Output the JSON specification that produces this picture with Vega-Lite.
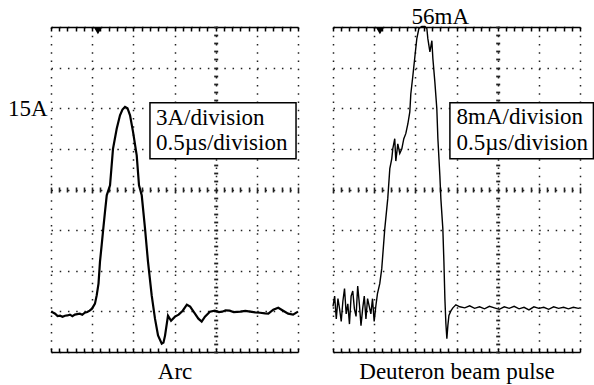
{
  "$schema": "https://vega.github.io/schema/vega-lite/v6.json",
  "background": "white",
  "padding": {"left": 7, "top": 5, "right": 0, "bottom": 0},
  "spacing": 27,
  "config": {"view": {"stroke": null}, "font": "Liberation Serif"},
  "datasets": {
    "arc": [
      {"t":0,"v":-0.02},{"t":0.03,"v":-0.1},{"t":0.05,"v":-0.17},{"t":0.08,"v":-0.35},{"t":0.11,"v":-0.32},{"t":0.14,"v":-0.4},{"t":0.17,"v":-0.32},{"t":0.2,"v":-0.3},{"t":0.23,"v":-0.24},{"t":0.26,"v":-0.35},{"t":0.29,"v":-0.24},{"t":0.32,"v":-0.2},{"t":0.35,"v":-0.17},{"t":0.38,"v":-0.25},{"t":0.41,"v":-0.1},{"t":0.44,"v":-0.05},{"t":0.47,"v":0.05},{"t":0.498,"v":0.2},{"t":0.534,"v":0.57},{"t":0.555,"v":1.18},{"t":0.577,"v":2.05},{"t":0.595,"v":3.67},{"t":0.616,"v":4.93},{"t":0.635,"v":6.11},{"t":0.656,"v":7.36},{"t":0.677,"v":8.57},{"t":0.717,"v":9.31},{"t":0.753,"v":12.0},{"t":0.798,"v":13.49},{"t":0.838,"v":14.48},{"t":0.868,"v":14.9},{"t":0.899,"v":15.1},{"t":0.929,"v":15.0},{"t":0.96,"v":14.48},{"t":0.996,"v":13.27},{"t":1.041,"v":11.52},{"t":1.069,"v":9.31},{"t":1.102,"v":8.57},{"t":1.142,"v":6.11},{"t":1.178,"v":3.67},{"t":1.223,"v":1.18},{"t":1.263,"v":-0.54},{"t":1.3,"v":-1.77},{"t":1.345,"v":-2.39},{"t":1.366,"v":-2.31},{"t":1.385,"v":-1.79},{"t":1.421,"v":-0.32},{"t":1.458,"v":-0.69},{"t":1.506,"v":-0.39},{"t":1.55,"v":-0.24},{"t":1.6,"v":0.05},{"t":1.65,"v":0.49},{"t":1.69,"v":0.35},{"t":1.74,"v":-0.1},{"t":1.79,"v":-0.54},{"t":1.83,"v":-0.76},{"t":1.87,"v":-0.39},{"t":1.93,"v":-0.02},{"t":1.99,"v":0.05},{"t":2.04,"v":-0.05},{"t":2.08,"v":-0.02},{"t":2.12,"v":0.08},{"t":2.17,"v":0.05},{"t":2.22,"v":-0.06},{"t":2.3,"v":-0.02},{"t":2.36,"v":0.04},{"t":2.42,"v":-0.02},{"t":2.48,"v":-0.08},{"t":2.54,"v":-0.1},{"t":2.6,"v":-0.15},{"t":2.64,"v":-0.17},{"t":2.7,"v":0.12},{"t":2.76,"v":0.27},{"t":2.82,"v":0.05},{"t":2.88,"v":-0.17},{"t":2.94,"v":-0.24},{"t":3.0,"v":-0.02}
    ],
    "beam": [
      {"t":0,"v":1.0},{"t":0.02,"v":3.0},{"t":0.04,"v":-1.5},{"t":0.06,"v":2.5},{"t":0.08,"v":0.5},{"t":0.1,"v":-2.0},{"t":0.12,"v":2.0},{"t":0.14,"v":4.5},{"t":0.16,"v":-0.5},{"t":0.18,"v":1.5},{"t":0.2,"v":-2.5},{"t":0.22,"v":3.0},{"t":0.24,"v":4.0},{"t":0.26,"v":0.5},{"t":0.28,"v":-1.0},{"t":0.3,"v":5.0},{"t":0.32,"v":1.5},{"t":0.34,"v":-2.8},{"t":0.36,"v":0.5},{"t":0.38,"v":3.0},{"t":0.4,"v":-1.5},{"t":0.42,"v":2.5},{"t":0.44,"v":1.0},{"t":0.46,"v":-0.5},{"t":0.48,"v":2.5},{"t":0.5,"v":-2.0},{"t":0.52,"v":1.0},{"t":0.54,"v":3.5},
      {"t":0.568,"v":5.46},{"t":0.592,"v":8.41},{"t":0.629,"v":16.3},{"t":0.665,"v":22.2},{"t":0.69,"v":28.1},{"t":0.714,"v":30.1},{"t":0.726,"v":32.0},{"t":0.75,"v":34.0},{"t":0.763,"v":29.6},{"t":0.787,"v":33.0},{"t":0.811,"v":31.1},{"t":0.836,"v":32.0},{"t":0.86,"v":34.0},{"t":0.884,"v":35.0},{"t":0.909,"v":36.9},{"t":0.933,"v":39.3},{"t":0.945,"v":42.8},{"t":0.97,"v":46.4},{"t":0.994,"v":50.1},{"t":1.018,"v":53.7},{"t":1.043,"v":55.7},{"t":1.079,"v":56.1},{"t":1.116,"v":56.1},{"t":1.14,"v":55.7},{"t":1.152,"v":53.7},{"t":1.177,"v":51.1},{"t":1.201,"v":53.3},{"t":1.213,"v":49.8},{"t":1.237,"v":45.2},{"t":1.261,"v":39.9},{"t":1.274,"v":34.0},{"t":1.298,"v":26.7},{"t":1.31,"v":22.2},{"t":1.334,"v":16.3},{"t":1.347,"v":9.8},{"t":1.359,"v":2.5},{"t":1.371,"v":-2.4},{"t":1.383,"v":-5.4},{"t":1.395,"v":-2.8},{"t":1.408,"v":-0.8},{"t":1.432,"v":0.1},{"t":1.456,"v":0.7},{"t":1.492,"v":1.3},
      {"t":1.54,"v":0.9},{"t":1.6,"v":0.7},{"t":1.66,"v":1.1},{"t":1.72,"v":0.6},{"t":1.78,"v":0.9},{"t":1.84,"v":0.5},{"t":1.9,"v":1.0},{"t":1.96,"v":0.7},{"t":2.02,"v":0.4},{"t":2.08,"v":0.9},{"t":2.14,"v":0.6},{"t":2.2,"v":1.0},{"t":2.26,"v":0.5},{"t":2.32,"v":0.8},{"t":2.38,"v":0.3},{"t":2.44,"v":0.9},{"t":2.5,"v":0.6},{"t":2.56,"v":0.8},{"t":2.62,"v":0.4},{"t":2.68,"v":0.9},{"t":2.74,"v":0.6},{"t":2.8,"v":0.8},{"t":2.86,"v":0.5},{"t":2.92,"v":0.8},{"t":2.98,"v":0.6},{"t":3.0,"v":0.7}
    ],
    "arcMarker": [{"t":0.57,"v":21}],
    "beamMarker": [{"t":0.57,"v":56}],
    "arcBox": [{"x1":1.202,"x2":2.976,"y1":15.41,"y2":11.27}],
    "beamBox": [{"x1":1.42,"x2":3.163,"y1":41.1,"y2":30.07}],
    "arcText": [{"t":1.275,"v":13.79,"label":"3A/division"},{"t":1.275,"v":11.89,"label":"0.5µs/division"}],
    "beamText": [{"t":1.501,"v":36.96,"label":"8mA/division"},{"t":1.501,"v":31.7,"label":"0.5µs/division"},{"t":0.954,"v":56.66,"label":"56mA"}]
  },
  "hconcat": [
    {
      "width": 247,
      "height": 325,
      "resolve": {"axis": {"x": "independent", "y": "independent"}},
      "layer": [
        {
          "data": {"name": "arc"},
          "mark": {"type": "line", "color": "black", "strokeWidth": 2.2},
          "encoding": {
            "x": {"field": "t", "type": "quantitative", "scale": {"domain": [0, 3], "nice": false, "zero": false},
              "axis": {"orient": "bottom", "zindex": 0, "values": [0,0.1,0.2,0.3,0.4,0.5,0.6,0.7,0.8,0.9,1,1.1,1.2,1.3,1.4,1.5,1.6,1.7,1.8,1.9,2,2.1,2.2,2.3,2.4,2.5,2.6,2.7,2.8,2.9,3],
                "labels": false, "grid": false, "domain": true, "domainColor": "black", "domainWidth": 1.5, "tickColor": "black", "tickSize": -4, "tickWidth": 1.5,
                "title": "Arc", "titleFont": "Liberation Serif", "titleFontSize": 23, "titleFontWeight": "normal", "titleColor": "black", "titlePadding": 8}},
            "y": {"field": "v", "type": "quantitative", "scale": {"domain": [-3, 21], "nice": false, "zero": false},
              "axis": {"orient": "left", "zindex": 0, "values": [15], "labelExpr": "'15A'", "labelFont": "Liberation Serif", "labelFontSize": 23, "labelColor": "black", "labelPadding": 4, "ticks": false, "domain": false, "grid": false, "title": null}}
          }
        },
        {
          "data": {"name": "arcMarker"},
          "mark": {"type": "point", "shape": "triangle-down", "filled": true, "color": "black", "opacity": 1, "size": 60, "yOffset": 4},
          "encoding": {
            "x": {"field": "t", "type": "quantitative",
              "axis": {"orient": "top", "zindex": 0, "values": [0,0.1,0.2,0.3,0.4,0.5,0.6,0.7,0.8,0.9,1,1.1,1.2,1.3,1.4,1.5,1.6,1.7,1.8,1.9,2,2.1,2.2,2.3,2.4,2.5,2.6,2.7,2.8,2.9,3],
                "labels": false, "grid": false, "domain": true, "domainColor": "black", "domainWidth": 1.5, "tickColor": "black", "tickSize": -4, "tickWidth": 1.5, "title": null}},
            "y": {"field": "v", "type": "quantitative",
              "axis": {"orient": "left", "zindex": 0, "offset": -162.7, "values": [-3,-2.4,-1.8,-1.2,-0.6,0,0.6,1.2,1.8,2.4,3,3.6,4.2,4.8,5.4,6,6.6,7.2,7.8,8.4,9,9.6,10.2,10.8,11.4,12,12.6,13.2,13.8,14.4,15,15.6,16.2,16.8,17.4,18,18.6,19.2,19.8,20.4,21],
                "labels": false, "grid": false, "domain": false, "tickColor": "#222", "tickSize": -4, "tickWidth": 1.8, "title": null}}
          }
        },
        {
          "data": {"name": "arcBox"},
          "mark": {"type": "rect", "fill": "white", "stroke": "black", "strokeWidth": 1.5},
          "encoding": {
            "x": {"field": "x1", "type": "quantitative",
              "axis": {"zindex": 0, "orient": "bottom", "values": [0,0.5,1,1.5,2,2.5,3], "grid": true, "gridColor": "#222", "gridWidth": 1.5, "gridDash": [1.5, 6.73], "gridOpacity": 1, "labels": false, "ticks": false, "domain": false, "title": null}},
            "x2": {"field": "x2"},
            "y": {"field": "y1", "type": "quantitative",
              "axis": {"zindex": 0, "orient": "left", "values": [-3,0,3,6,9,12,15,18,21], "grid": true, "gridColor": "#222", "gridWidth": 1.5, "gridDash": [1.5, 6.73], "gridOpacity": 1, "labels": false, "ticks": false, "domain": false, "title": null}},
            "y2": {"field": "y2"}
          }
        },
        {
          "data": {"name": "arcText"},
          "mark": {"type": "text", "align": "left", "baseline": "alphabetic", "font": "Liberation Serif", "fontSize": 23, "color": "black"},
          "encoding": {
            "x": {"field": "t", "type": "quantitative",
              "axis": {"orient": "bottom", "zindex": 0, "offset": -165, "values": [0,0.1,0.2,0.3,0.4,0.5,0.6,0.7,0.8,0.9,1,1.1,1.2,1.3,1.4,1.5,1.6,1.7,1.8,1.9,2,2.1,2.2,2.3,2.4,2.5,2.6,2.7,2.8,2.9,3],
                "labels": false, "grid": false, "domain": false, "tickColor": "#222", "tickSize": 5, "tickWidth": 1.6, "title": null}},
            "y": {"field": "v", "type": "quantitative", "axis": null},
            "text": {"field": "label"}
          }
        }
      ]
    },
    {
      "width": 247,
      "height": 325,
      "resolve": {"axis": {"x": "independent", "y": "independent"}},
      "layer": [
        {
          "data": {"name": "beam"},
          "mark": {"type": "line", "color": "black", "strokeWidth": 1.4},
          "encoding": {
            "x": {"field": "t", "type": "quantitative", "scale": {"domain": [0, 3], "nice": false, "zero": false},
              "axis": {"orient": "bottom", "zindex": 0, "values": [0,0.1,0.2,0.3,0.4,0.5,0.6,0.7,0.8,0.9,1,1.1,1.2,1.3,1.4,1.5,1.6,1.7,1.8,1.9,2,2.1,2.2,2.3,2.4,2.5,2.6,2.7,2.8,2.9,3],
                "labels": false, "grid": false, "domain": true, "domainColor": "black", "domainWidth": 1.5, "tickColor": "black", "tickSize": -4, "tickWidth": 1.5,
                "title": "Deuteron beam pulse", "titleFont": "Liberation Serif", "titleFontSize": 23, "titleFontWeight": "normal", "titleColor": "black", "titlePadding": 8}},
            "y": {"field": "v", "type": "quantitative", "scale": {"domain": [-8, 56], "nice": false, "zero": false}, "axis": null}
          }
        },
        {
          "data": {"name": "beamMarker"},
          "mark": {"type": "point", "shape": "triangle-down", "filled": true, "color": "black", "opacity": 1, "size": 60, "yOffset": 4},
          "encoding": {
            "x": {"field": "t", "type": "quantitative",
              "axis": {"orient": "top", "zindex": 0, "values": [0,0.1,0.2,0.3,0.4,0.5,0.6,0.7,0.8,0.9,1,1.1,1.2,1.3,1.4,1.5,1.6,1.7,1.8,1.9,2,2.1,2.2,2.3,2.4,2.5,2.6,2.7,2.8,2.9,3],
                "labels": false, "grid": false, "domain": true, "domainColor": "black", "domainWidth": 1.5, "tickColor": "black", "tickSize": -4, "tickWidth": 1.5, "title": null}},
            "y": {"field": "v", "type": "quantitative",
              "axis": {"orient": "left", "zindex": 0, "offset": -162.7, "values": [-8,-6.4,-4.8,-3.2,-1.6,0,1.6,3.2,4.8,6.4,8,9.6,11.2,12.8,14.4,16,17.6,19.2,20.8,22.4,24,25.6,27.2,28.8,30.4,32,33.6,35.2,36.8,38.4,40,41.6,43.2,44.8,46.4,48,49.6,51.2,52.8,54.4,56],
                "labels": false, "grid": false, "domain": false, "tickColor": "#222", "tickSize": -4, "tickWidth": 1.8, "title": null}}
          }
        },
        {
          "data": {"name": "beamBox"},
          "mark": {"type": "rect", "fill": "white", "stroke": "black", "strokeWidth": 1.5},
          "encoding": {
            "x": {"field": "x1", "type": "quantitative",
              "axis": {"zindex": 0, "orient": "bottom", "values": [0,0.5,1,1.5,2,2.5,3], "grid": true, "gridColor": "#222", "gridWidth": 1.5, "gridDash": [1.5, 6.73], "gridOpacity": 1, "labels": false, "ticks": false, "domain": false, "title": null}},
            "x2": {"field": "x2"},
            "y": {"field": "y1", "type": "quantitative",
              "axis": {"zindex": 0, "orient": "left", "values": [-8,0,8,16,24,32,40,48,56], "grid": true, "gridColor": "#222", "gridWidth": 1.5, "gridDash": [1.5, 6.73], "gridOpacity": 1, "labels": false, "ticks": false, "domain": false, "title": null}},
            "y2": {"field": "y2"}
          }
        },
        {
          "data": {"name": "beamText"},
          "mark": {"type": "text", "align": "left", "baseline": "alphabetic", "font": "Liberation Serif", "fontSize": 23, "color": "black"},
          "encoding": {
            "x": {"field": "t", "type": "quantitative",
              "axis": {"orient": "bottom", "zindex": 0, "offset": -165, "values": [0,0.1,0.2,0.3,0.4,0.5,0.6,0.7,0.8,0.9,1,1.1,1.2,1.3,1.4,1.5,1.6,1.7,1.8,1.9,2,2.1,2.2,2.3,2.4,2.5,2.6,2.7,2.8,2.9,3],
                "labels": false, "grid": false, "domain": false, "tickColor": "#222", "tickSize": 5, "tickWidth": 1.6, "title": null}},
            "y": {"field": "v", "type": "quantitative", "axis": null},
            "text": {"field": "label"}
          }
        }
      ]
    }
  ]
}
